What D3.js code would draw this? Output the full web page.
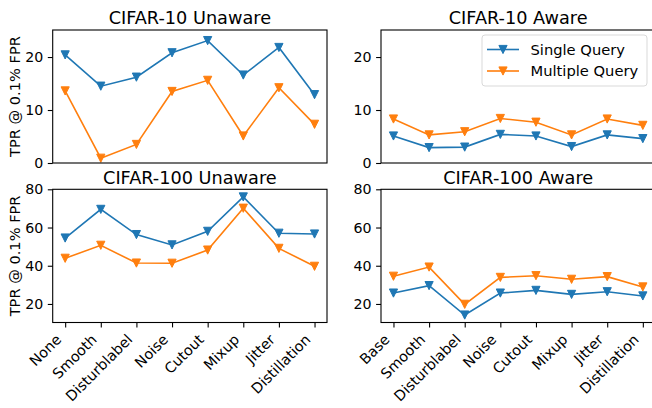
<!DOCTYPE html>
<html>
<head>
<meta charset="utf-8">
<script src="https://cdn.jsdelivr.net/npm/d3@7"></script>
<style>
body { margin: 0; background: #fff; }
svg text { font-family: "DejaVu Sans", sans-serif; fill: #000; }
</style>
</head>
<body>
<svg id="chart" width="652" height="408"></svg>
<script>
(function () {
var methodsUnaware = ['None', 'Smooth', 'Disturblabel', 'Noise', 'Cutout', 'Mixup', 'Jitter', 'Distillation']
var methodsAware = ['Base', 'Smooth', 'Disturblabel', 'Noise', 'Cutout', 'Mixup', 'Jitter', 'Distillation']

// TPR @ 0.1% FPR
var c10UnawareSingle = [20.4, 14.5, 16.2, 20.8, 23.1, 16.6, 21.8, 12.9]
var c10UnawareMulti = [13.6, 0.9, 3.5, 13.5, 15.6, 5.1, 14.2, 7.3]
var c10AwareSingle = [5.1, 2.9, 3.0, 5.4, 5.1, 3.1, 5.3, 4.6]
var c10AwareMulti = [8.3, 5.3, 5.9, 8.4, 7.7, 5.3, 8.3, 7.1]
var c100UnawareSingle = [54.5, 69.5, 56.3, 50.9, 58.0, 76.0, 57.0, 56.6]
var c100UnawareMulti = [43.9, 50.7, 41.4, 41.3, 48.2, 70.1, 49.1, 39.7]
var c100AwareSingle = [25.7, 29.6, 14.2, 25.7, 27.1, 25.0, 26.4, 24.2]
var c100AwareMulti = [34.5, 39.3, 19.8, 33.9, 34.8, 32.9, 34.3, 28.9]

var ticksTop = [0, 10, 20]
var ticksBottom = [20, 40, 60, 80]
var seriesNames = ['Single Query', 'Multiple Query']
var colors = ['#1f77b4', '#ff7f0e']

var svg = d3.select('#chart')

var panels = [
    {title: 'CIFAR-10 Unaware', x0: 52.7, y0: 30, y1: 163, dom: [0, 25.1], ticks: ticksTop,
     series: [c10UnawareSingle, c10UnawareMulti], labels: null, ylabel: true},
    {title: 'CIFAR-10 Aware', x0: 381, y0: 30, y1: 163, dom: [0, 25.1], ticks: ticksTop,
     series: [c10AwareSingle, c10AwareMulti], labels: null, legend: true},
    {title: 'CIFAR-100 Unaware', x0: 52.7, y0: 189.3, y1: 322.5, dom: [10.3, 80], ticks: ticksBottom,
     series: [c100UnawareSingle, c100UnawareMulti], labels: methodsUnaware, ylabel: true},
    {title: 'CIFAR-100 Aware', x0: 381, y0: 189.3, y1: 322.5, dom: [10.3, 80], ticks: ticksBottom,
     series: [c100AwareSingle, c100AwareMulti], labels: methodsAware}
]
var pw = 274.3

var tri = (cx, cy, r) => 'M' + (cx - r) + ',' + (cy - r) + 'L' + (cx + r) + ',' + (cy - r) + 'L' + cx + ',' + (cy + r) + 'Z'

panels.forEach(function (p) {
    var x = d3.scaleLinear().domain([-0.35, 7.35]).range([p.x0, p.x0 + pw])
    var y = d3.scaleLinear().domain(p.dom).range([p.y1, p.y0])
    var g = svg.append('g')

    // y axis
    var ya = g.append('g')
        .attr('transform', 'translate(' + p.x0 + ',0)')
        .call(d3.axisLeft(y).tickValues(p.ticks).tickSize(4.9).tickPadding(4.5).tickFormat(d3.format('d')))
    ya.select('.domain').remove()
    ya.selectAll('line').attr('stroke', '#000').attr('stroke-width', 1.1)
    ya.selectAll('text').style('font-size', '14.2px').style('font-family', '"DejaVu Sans", sans-serif')

    // x axis (bottom row only)
    if (p.labels) {
        var xa = g.append('g')
            .attr('transform', 'translate(0,' + p.y1 + ')')
            .call(d3.axisBottom(x).tickValues(d3.range(p.labels.length)).tickSize(4.9).tickFormat(''))
        xa.select('.domain').remove()
        xa.selectAll('line').attr('stroke', '#000').attr('stroke-width', 1.1)
        g.selectAll('.xl')
            .data(p.labels)
            .enter()
            .append('text')
            .attr('class', 'xl')
            .attr('text-anchor', 'end')
            .attr('transform', (d, i) => 'translate(' + (x(i) - 3) + ',' + (p.y1 + 18) + ') rotate(-45)')
            .style('font-size', '14.4px')
            .text(d => d)
    }

    // lines + markers
    p.series.forEach(function (vals, s) {
        g.append('path')
            .datum(vals)
            .attr('fill', 'none')
            .attr('stroke', colors[s])
            .attr('stroke-width', 1.6)
            .attr('d', d3.line().x((d, i) => x(i)).y(d => y(d)))
        g.selectAll('.m' + s)
            .data(vals)
            .enter()
            .append('path')
            .attr('class', 'm' + s)
            .attr('fill', colors[s])
            .attr('stroke', colors[s])
            .attr('stroke-width', 1)
            .attr('d', (d, i) => tri(x(i), y(d), 4.1))
    })

    // frame
    g.append('rect')
        .attr('x', p.x0).attr('y', p.y0)
        .attr('width', pw).attr('height', p.y1 - p.y0)
        .attr('fill', 'none').attr('stroke', '#000').attr('stroke-width', 1.1)

    g.append('text')
        .attr('x', p.x0 + pw / 2)
        .attr('y', p.y0 - 5.8)
        .attr('text-anchor', 'middle')
        .style('font-size', '17.7px')
        .text(p.title)

    if (p.ylabel) {
        g.append('text')
            .attr('transform', 'translate(20,' + ((p.y0 + p.y1) / 2) + ') rotate(-90)')
            .attr('text-anchor', 'middle')
            .style('font-size', '14.6px')
            .text('TPR @ 0.1% FPR')
    }

    if (p.legend) {
        var lg = g.append('g')
        lg.append('rect')
            .attr('x', 482).attr('y', 35)
            .attr('width', 165).attr('height', 51)
            .attr('rx', 3)
            .attr('fill', '#fff').attr('fill-opacity', 0.8)
            .attr('stroke', '#d9d9d9').attr('stroke-width', 1)
        seriesNames.forEach(function (name, s) {
            var cy = 49.5 + s * 21.5
            lg.append('line')
                .attr('x1', 487).attr('x2', 519)
                .attr('y1', cy).attr('y2', cy)
                .attr('stroke', colors[s]).attr('stroke-width', 1.6)
            lg.append('path')
                .attr('d', tri(503, cy, 4.1))
                .attr('fill', colors[s]).attr('stroke', colors[s])
            lg.append('text')
                .attr('x', 530.5).attr('y', cy + 5.2)
                .style('font-size', '14.7px')
                .text(name)
        })
    }
})
})();
</script>
</body>
</html>
